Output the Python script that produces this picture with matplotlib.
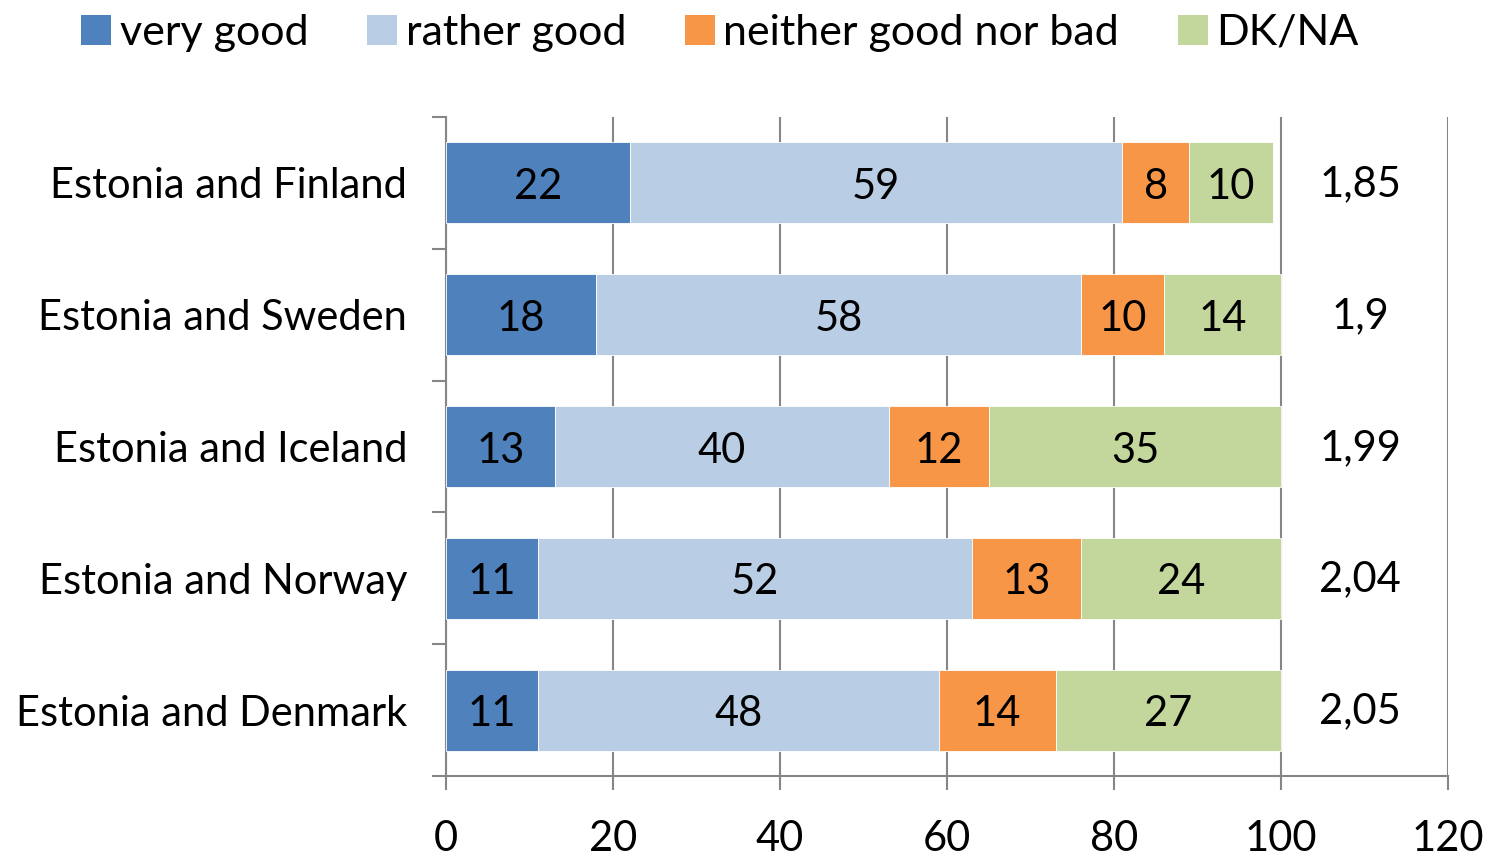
import matplotlib
matplotlib.use("Agg")
import matplotlib.pyplot as plt
from matplotlib.patches import Patch

# -------------------------------
# Data
# -------------------------------
countries = ["Estonia and Finland", "Estonia and Sweden", "Estonia and Iceland",
             "Estonia and Norway", "Estonia and Denmark"]
very_good = [22, 18, 13, 11, 11]
rather_good = [59, 58, 40, 52, 48]
neither = [8, 10, 12, 13, 14]
dk_na = [10, 14, 35, 24, 27]
averages = ["1,85", "1,9", "1,99", "2,04", "2,05"]

series_names = ["very good", "rather good", "neither good nor bad", "DK/NA"]
series_values = [very_good, rather_good, neither, dk_na]
colors = ["#4F81BD", "#B9CDE5", "#F79646", "#C3D69B"]

x_ticks = [0, 20, 40, 60, 80, 100, 120]
avg_x = 109.5

# -------------------------------
# Plot
# -------------------------------
plt.rcParams['font.family'] = ['Lato', 'DejaVu Sans']
FS = 30
grey = "#868686"

fig = plt.figure(figsize=(14.88, 8.56), dpi=100)
ax = fig.add_axes([446 / 1488, 80 / 856, (1448 - 446) / 1488, (776 - 117) / 856])

y = list(range(len(countries)))
left = [0] * len(countries)
for name, vals, col in zip(series_names, series_values, colors):
    bars = ax.barh(y, vals, left=left, height=0.615, color=col, label=name,
                   edgecolor="white", linewidth=0.6, zorder=3)
    texts = ax.bar_label(bars, labels=[str(v) for v in vals], label_type="center",
                         fontsize=FS, color="black")
    for t in texts:
        t.xyann = (0, -3)  # sit a little lower, like the original
    left = [l + v for l, v in zip(left, vals)]

# average score on the right
for yi, txt in zip(y, averages):
    ax.annotate(txt, (avg_x, yi), xytext=(0, -1), textcoords="offset points",
                ha="center", va="center", fontsize=FS, color="black")

ax.set_xlim(0, 120)
ax.set_ylim(len(countries) - 0.5, -0.5)

ax.set_xticks(x_ticks)
ax.set_xticklabels([str(t) for t in x_ticks], fontsize=FS)
ax.tick_params(axis="x", direction="out", length=10, width=1.5, color=grey, pad=22)

# category boundaries as major ticks, labels on minor ticks
ax.set_yticks([i - 0.5 for i in range(len(countries) + 1)])
ax.set_yticklabels([])
ax.set_yticks(y, minor=True)
ax.set_yticklabels(countries, minor=True, fontsize=FS)
ax.tick_params(axis="y", which="major", direction="out", length=10, width=1.5, color=grey)
ax.tick_params(axis="y", which="minor", length=0, pad=28)

ax.grid(axis="x", color=grey, linewidth=1.5, zorder=0)
ax.set_axisbelow(True)
for side in ["top", "right"]:
    ax.spines[side].set_visible(False)
for side in ["left", "bottom"]:
    ax.spines[side].set_color(grey)
    ax.spines[side].set_linewidth(1.5)

handles = [Patch(facecolor=c, label=n) for n, c in zip(series_names, colors)]
fig.legend(handles=handles, loc="upper left", bbox_to_anchor=(55 / 1488, 1.014),
           ncol=4, frameon=False, fontsize=31, handlelength=0.7, handleheight=0.7,
           handletextpad=0.2, columnspacing=1.36, borderaxespad=0.2)

plt.savefig("out.png", dpi=100)
